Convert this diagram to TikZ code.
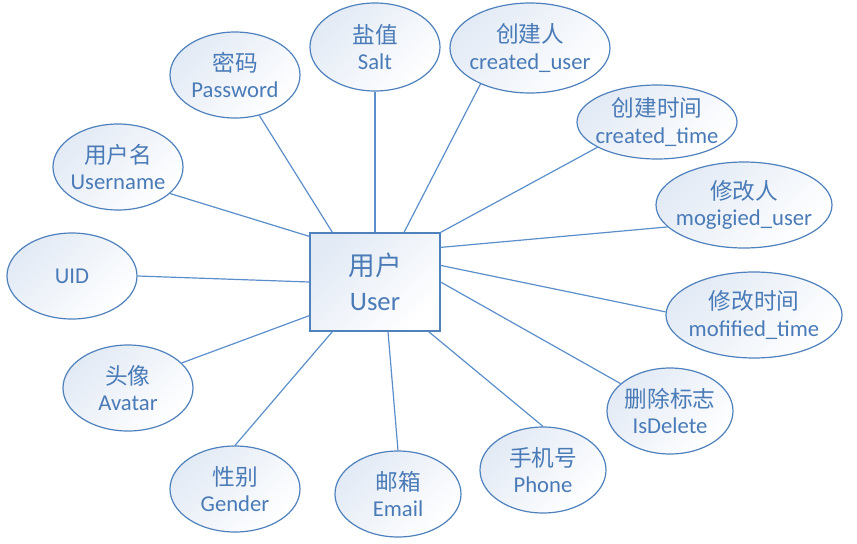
\documentclass[tikz,border=0pt]{standalone}
\usepackage{fontspec}
\setmainfont{Carlito}
\newfontfamily\cjk{Noto Sans CJK SC}
\usepackage{tikz}
\usetikzlibrary{calc,positioning,shapes.geometric}
\usepackage{xcolor}
\definecolor{erblue}{HTML}{4F81BD}
\definecolor{ertext}{HTML}{4A7BB7}
\definecolor{erline}{HTML}{5B8FCB}
\definecolor{erfill}{HTML}{E2EAF5}

\begin{document}
\begin{tikzpicture}[x=0.75pt,y=-0.75pt,
    attr/.style={ellipse,draw=erblue,line width=0.9pt,top color=erfill,bottom color=white,shading angle=45,
        inner xsep=-16pt,inner ysep=-4pt,minimum width=97.5pt,minimum height=64.5pt,text=ertext,align=center,
        font=\fontsize{17}{20}\selectfont},
    entity/.style={rectangle,draw=erblue,line width=0.9pt,top color=erfill,bottom color=white,shading angle=45,
        inner sep=0pt,minimum width=97.5pt,minimum height=73.5pt,text=ertext,align=center,
        font=\fontsize{20}{26}\selectfont},
    link/.style={erline,line width=0.9pt}]
    \useasboundingbox (0,0) rectangle (857,543);

    % entity
    \node[entity] (user) at (375,282) {{\cjk 用户}\\User};

    % attributes
    \node[attr] (uname) at (118,167) {{\cjk 用户名}\\Username};
    \node[attr] (pwd) at (235,75) {{\cjk 密码}\\Password};
    \node[attr,minimum height=66pt] (salt) at (375,47) {{\cjk 盐值}\\Salt};
    \node[attr,minimum width=120pt,minimum height=67.5pt] (cuser) at (530,48) {{\cjk 创建人}\\created\_user};
    \node[attr,minimum width=120pt,minimum height=55.5pt] (ctime) at (657,122) {{\cjk 创建时间}\\created\_time};
    \node[attr,minimum width=132pt] (muser) at (744,205) {{\cjk 修改人}\\mogigied\_user};
    \node[attr,minimum width=132pt] (mtime) at (754,315) {{\cjk 修改时间}\\mofified\_time};
    \node[attr,minimum width=94.5pt] (isdel) at (670,411) {{\cjk 删除标志}\\IsDelete};
    \node[attr,minimum width=94.5pt] (phone) at (543,470) {{\cjk 手机号}\\Phone};
    \node[attr,minimum width=94.5pt] (email) at (398,494) {{\cjk 邮箱}\\Email};
    \node[attr] (gender) at (235,489) {{\cjk 性别}\\Gender};
    \node[attr] (avatar) at (128,388) {{\cjk 头像}\\Avatar};
    \node[attr] (uid) at (72,276) {UID};

    % links
    \draw[link] (uname.333) -- ($(user.north west)+(0,4)$);
    \draw[link] (pwd.301) -- ($(user.north west)+(23,0)$);
    \draw[link] (salt.south) -- (user.north);
    \draw[link] (cuser.216) -- ($(user.north)+(29,0)$);
    \draw[link] (ctime.203) -- (user.north east);
    \draw[link] (muser.196) -- ($(user.north east)+(0,15)$);
    \draw[link] (mtime.178) -- ($(user.north east)+(0,33)$);
    \draw[link] (isdel.151) -- (user.east);
    \draw[link] (phone.north) -- ($(user.south east)+(-12,0)$);
    \draw[link] (email.north) -- ($(user.south)+(13,0)$);
    \draw[link] (gender.north) -- ($(user.south west)+(23,0)$);
    \draw[link] (avatar.25) -- ($(user.south west)+(0,-16)$);
    \draw[link] (uid.east) -- (user.west);
\end{tikzpicture}
\end{document}
